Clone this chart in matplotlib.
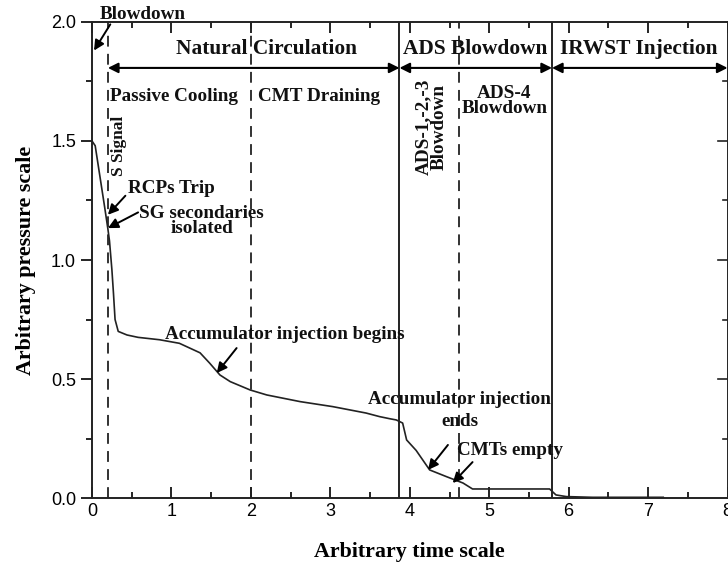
import matplotlib
matplotlib.use("Agg")
import matplotlib.pyplot as plt
from matplotlib.ticker import MultipleLocator

# pressure transient read along the time axis
time = [0.0, 0.04, 0.10, 0.16, 0.20, 0.22, 0.25, 0.27, 0.29, 0.33, 0.44, 0.58,
        0.85, 1.10, 1.36, 1.48, 1.61, 1.74, 1.99, 2.20, 2.62, 3.03, 3.45, 3.62,
        3.75, 3.83, 3.91, 3.96, 4.08, 4.25, 4.46, 4.67, 4.79, 5.30, 5.76, 5.84,
        5.97, 6.30, 7.19]
pressure = [1.50, 1.48, 1.35, 1.22, 1.13, 1.08, 0.96, 0.86, 0.75, 0.70, 0.685,
            0.675, 0.665, 0.65, 0.61, 0.567, 0.517, 0.489, 0.454, 0.433, 0.405,
            0.384, 0.357, 0.342, 0.333, 0.328, 0.315, 0.244, 0.20, 0.118, 0.09,
            0.063, 0.038, 0.038, 0.038, 0.013, 0.006, 0.003, 0.003]

# phase boundaries
solid_lines = [3.87, 5.79]
dashed_lines = [0.2, 2.0, 4.62]
phases = [("Natural Circulation", 0.2, 3.87, 2.2),
          ("ADS Blowdown", 3.87, 5.79, 4.82),
          ("IRWST Injection", 5.79, 8.0, 6.88)]

SERIF = "Liberation Serif"
SANS = "Liberation Sans"
FS = 13.8      # annotation text
FS_HEAD = 15.4 # phase names

fig = plt.figure(figsize=(7.28, 5.68), dpi=100)
ax = fig.add_axes([0.1264, 0.1232, 0.873, 0.8381])

ax.plot(time, pressure, color="#222222", lw=1.2)
for x in solid_lines:
    ax.axvline(x, color="#222222", lw=1.4)
for x in dashed_lines:
    ax.axvline(x, color="#222222", lw=1.3, ls=(0, (6, 4)))

ax.set_xlim(0, 8)
ax.set_ylim(0, 2.0)
ax.xaxis.set_major_locator(MultipleLocator(1))
ax.xaxis.set_minor_locator(MultipleLocator(0.5))
ax.yaxis.set_major_locator(MultipleLocator(0.5))
ax.yaxis.set_minor_locator(MultipleLocator(0.25))
ax.yaxis.set_major_formatter(plt.FormatStrFormatter("%.1f"))
ax.tick_params(axis="x", which="both", direction="in", top=True)
ax.tick_params(axis="y", which="both", direction="out", right=False)
ax.tick_params(which="major", length=8, width=1.2, labelsize=13)
ax.tick_params(which="minor", length=4, width=1.2)
for lab in ax.get_xticklabels() + ax.get_yticklabels():
    lab.set_fontfamily(SANS)
# inward ticks on the right spine
for y in [0.25, 0.5, 0.75, 1.0, 1.25, 1.5, 1.75]:
    ax.plot([7.88 if y % 0.5 == 0 else 7.94, 8.0], [y, y], color="#222222",
            lw=1.2, clip_on=False)
for s in ax.spines.values():
    s.set_linewidth(1.4)
    s.set_color("#222222")

ax.set_xlabel("Arbitrary time scale", fontfamily=SERIF, fontweight="bold",
              fontsize=15.8, labelpad=16)
ax.set_ylabel("Arbitrary pressure scale", fontfamily=SERIF, fontweight="bold",
              fontsize=15.8, labelpad=11)

txt = dict(fontfamily=SERIF, fontweight="bold", color="#111111")
arrow = dict(arrowstyle="-|>", color="black", lw=1.4, mutation_scale=15,
             shrinkA=0, shrinkB=0)

# phase spans along the top
for name, x0, x1, xc in phases:
    ax.annotate("", xy=(x1, 1.807), xytext=(x0, 1.807),
                arrowprops=dict(arrowstyle="<|-|>", color="black", lw=1.5,
                                mutation_scale=15, shrinkA=0, shrinkB=0))
    ax.text(xc, 1.885, name, ha="center", va="center", fontsize=FS_HEAD, **txt)

ax.text(0.23, 1.685, "Passive Cooling", ha="left", va="center", fontsize=FS, **txt)
ax.text(2.09, 1.685, "CMT Draining", ha="left", va="center", fontsize=FS, **txt)
ax.text(5.19, 1.67, "ADS-4\nBlowdown", ha="center", va="center", fontsize=FS,
        linespacing=0.85, **txt)
ax.text(4.27, 1.56, "ADS-1,-2,-3\nBlowdown", ha="center", va="center",
        rotation=90, fontsize=FS, linespacing=0.85, **txt)
ax.text(0.34, 1.48, "S Signal", ha="center", va="center", rotation=90,
        fontsize=12.5, **txt)

ax.text(0.1, 2.03, "Blowdown", ha="left", va="center", fontsize=FS, **txt)
ax.annotate("", xy=(0.025, 1.88), xytext=(0.23, 1.99), arrowprops=arrow)
ax.text(0.45, 1.30, "RCPs Trip", ha="left", va="center", fontsize=FS, **txt)
ax.annotate("", xy=(0.2, 1.19), xytext=(0.42, 1.27), arrowprops=arrow)
ax.text(1.38, 1.164, "SG secondaries\nisolated", ha="center", va="center",
        fontsize=FS, linespacing=0.9, **txt)
ax.annotate("", xy=(0.2, 1.134), xytext=(0.58, 1.20), arrowprops=arrow)

ax.text(0.92, 0.685, "Accumulator injection begins", ha="left", va="center",
        fontsize=FS, **txt)
ax.annotate("", xy=(1.57, 0.525), xytext=(1.82, 0.63), arrowprops=arrow)

ax.text(4.63, 0.368, "Accumulator injection\nends", ha="center", va="center",
        fontsize=FS, linespacing=1.45, **txt)
ax.annotate("", xy=(4.23, 0.118), xytext=(4.48, 0.223), arrowprops=arrow)
ax.text(4.6, 0.2, "CMTs empty", ha="left", va="center", fontsize=FS, **txt)
ax.annotate("", xy=(4.54, 0.063), xytext=(4.79, 0.151), arrowprops=arrow)

fig.savefig("out.png", dpi=100)
